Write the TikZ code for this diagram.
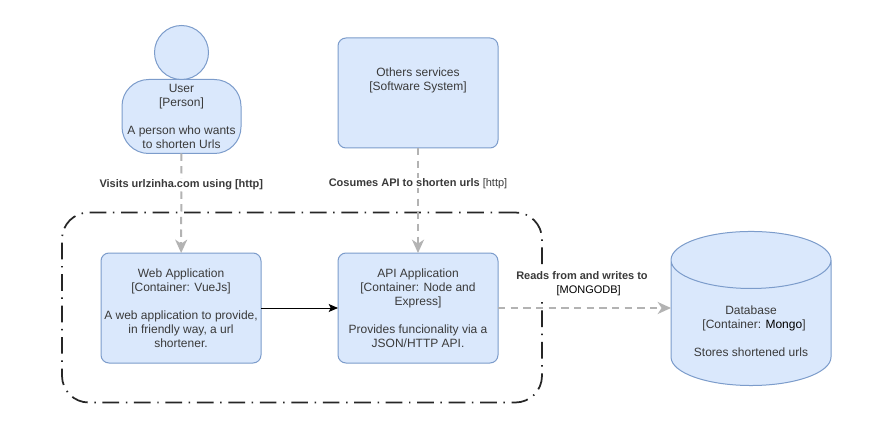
\documentclass[tikz,border=0pt]{standalone}
\usepackage{fontspec}
\setmainfont{Liberation Sans}
\usetikzlibrary{positioning,shapes.geometric,arrows.meta}
\definecolor{boxfill}{HTML}{DAE8FC}
\definecolor{boxline}{HTML}{7C9CCB}
\definecolor{flowgray}{HTML}{B3B3B3}
\definecolor{txtgray}{HTML}{3A3A3A}
\tikzset{
  every node/.style={align=center, font=\fontsize{9pt}{10.5pt}\selectfont, text=txtgray, outer sep=0pt, inner sep=0pt},
  c4box/.style={draw=boxline, line width=0.75pt, fill=boxfill, rounded corners=6pt, minimum width=120pt, minimum height=82.5pt},
  flow/.style={draw=flowgray, line width=1.5pt, dash pattern=on 5.5pt off 4pt, -{Stealth[length=10pt, width=9pt, inset=3pt]}},
  flowlabel/.style={fill=white, font=\fontsize{8.25pt}{10.5pt}\selectfont}
}
\begin{document}
\begin{tikzpicture}[x=0.75pt, y=-0.75pt]
\useasboundingbox[fill=white] (0,0) rectangle (884,438);
% system boundary
\node (boundary) [draw=black!85, line width=1.3pt, dash pattern=on 12.5pt off 5pt on 1.1pt off 5pt, rounded corners=20pt, minimum width=360pt, minimum height=142.5pt] at (302,307.5) {};
% containers
\node (web) [c4box] at (181,308) {Web Application \\ {[Container: VueJs]} \\ ~ \\ A web application to provide, \\ in friendly way, a url \\ shortener.};
\node (api) [c4box, right=57.75pt of web] {API Application \\ {[Container: Node and} \\ Express{]} \\ ~ \\ Provides funcionality via a \\ JSON/HTTP API.};
\node (others) [c4box, above=78.75pt of api] {Others services \\ {[Software System]} \\ ~ \\ ~};
% person
\node (body) [c4box, minimum width=89.25pt, minimum height=55.5pt, rounded corners=20pt] at (181.5,116.5) {User \\ {[Person]} \\ ~ \\ A person who wants \\ to shorten Urls};
\node (head) [circle, draw=boxline, line width=0.75pt, fill=boxfill, minimum size=40.5pt, above=0pt of body] {};
% database
\node (db) [cylinder, shape border rotate=90, aspect=0.5, draw=boxline, line width=0.75pt, fill=boxfill, minimum width=120pt] at (751,323) {\raisebox{-9.75pt}[25.5pt][25.5pt]{\begin{tabular}{@{}c@{}} Database \\ \hspace*{4.5pt}{[Container: \textcolor{black}{Mongo}]} \\ ~ \\ Stores shortened urls \end{tabular}}};
% connectors
\draw[flow] (body) -- node (visits) [flowlabel, pos=0.31] {\textbf{Visits urlzinha.com using [http]}} (web);
\draw[flow] (others) -- node (consumes) [flowlabel, pos=0.335] {\textbf{Cosumes API to shorten urls} [http]} (api);
\draw[flow] (api) -- (api -| db.west);
\draw[-{Stealth[length=7pt, width=6pt, inset=1.5pt]}, black, line width=0.75pt] (web) -- (api);
\node (reads) [flowlabel, inner ysep=2pt] at (582,283.5) {\textbf{Reads from and writes to} \\ \hspace*{10pt}\textcolor{black}{[MONGODB]}};
\end{tikzpicture}
\end{document}
